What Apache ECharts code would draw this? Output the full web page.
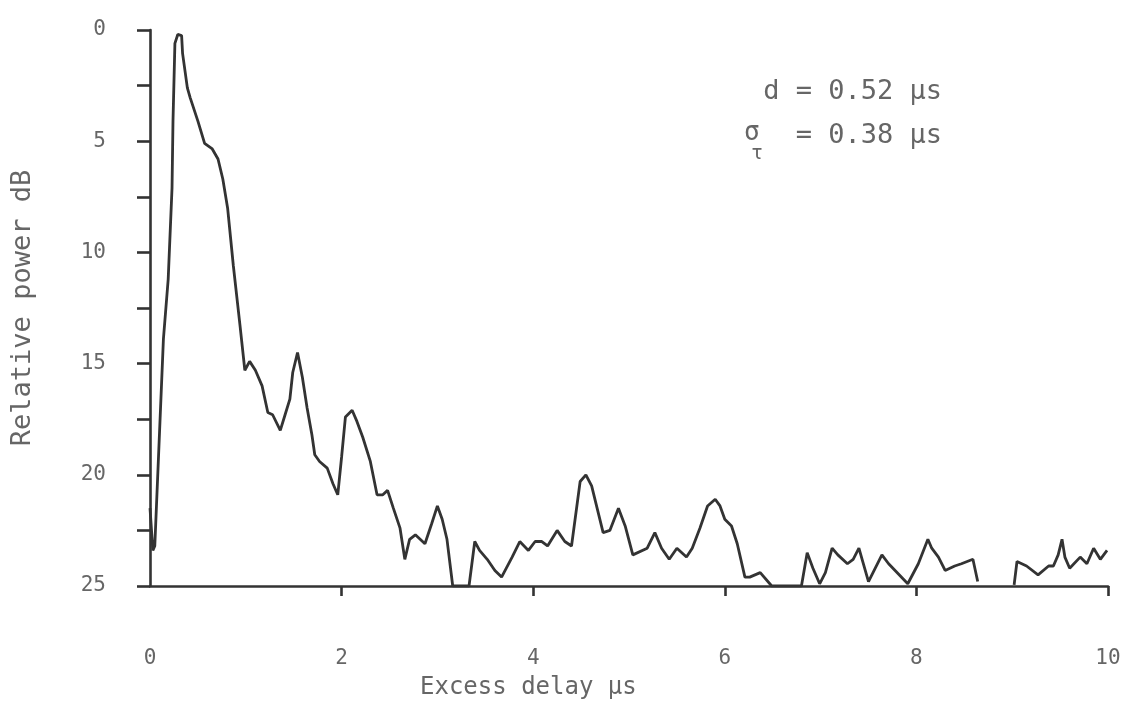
<!DOCTYPE html>
<html>
<head>
<meta charset="utf-8">
<script src="https://cdn.jsdelivr.net/npm/echarts@6/dist/echarts.min.js"></script>
<style>
html,body{margin:0;padding:0;background:#fff;}
#chart{width:1135px;height:717px;}
</style>
</head>
<body>
<div id="chart"></div>
<script>
// Excess delay (µs)
const delay = [
  0.00,0.03,0.05,0.14,0.19,0.23,0.24,0.26,0.29,0.33,0.34,0.39,0.42,0.50,0.57,0.65,0.71,0.76,0.81,0.87,
  0.94,0.99,1.04,1.10,1.17,1.23,1.28,1.36,1.41,1.46,1.49,1.54,1.59,1.64,1.69,1.72,1.77,1.85,1.91,1.96,
  2.00,2.04,2.11,2.16,2.22,2.30,2.37,2.43,2.48,2.54,2.61,2.66,2.71,2.77,2.82,2.87,2.94,3.00,3.05,3.10,
  3.16,3.33,3.39,3.44,3.52,3.60,3.67,3.78,3.86,3.95,4.02,4.09,4.15,4.25,4.33,4.40,4.49,4.55,4.61,4.73,
  4.80,4.89,4.96,5.04,5.19,5.27,5.34,5.42,5.50,5.60,5.66,5.74,5.82,5.90,5.95,6.00,6.07,6.13,6.21,6.26,
  6.37,6.49,6.80,6.86,6.92,6.99,7.05,7.12,7.18,7.28,7.34,7.40,7.44,7.50,7.64,7.71,7.91,8.02,8.12,8.16,
  8.23,8.30,8.40,8.47,8.59,8.64,8.80,9.02,9.05,9.15,9.27,9.38,9.43,9.48,9.52,9.55,9.60,9.71,9.78,9.85,
  9.92,9.99
];
// Relative power (dB below peak); null = gap in trace
const power = [
  21.5,23.4,23.2,13.9,11.2,7.1,4.1,0.6,0.2,0.25,1.05,2.6,3.05,4.1,5.1,5.35,5.8,6.7,8.0,10.6,
  13.3,15.3,14.9,15.3,16.0,17.2,17.3,18.0,17.3,16.6,15.4,14.5,15.6,17.0,18.2,19.1,19.4,19.7,20.4,20.9,
  19.2,17.4,17.1,17.6,18.3,19.4,20.9,20.9,20.7,21.5,22.4,23.8,22.9,22.7,22.9,23.1,22.2,21.4,22.0,22.9,
  25,25,23.0,23.4,23.8,24.3,24.6,23.7,23.0,23.4,23.0,23.0,23.2,22.5,23.0,23.2,20.3,20.0,20.5,22.6,
  22.5,21.5,22.3,23.6,23.3,22.6,23.3,23.8,23.3,23.7,23.3,22.4,21.4,21.1,21.4,22.0,22.3,23.1,24.6,24.6,
  24.4,25,25,23.5,24.2,24.9,24.4,23.3,23.6,24.0,23.8,23.3,23.9,24.8,23.6,24.0,24.9,24.0,22.9,23.3,
  23.7,24.3,24.1,24.0,23.8,24.8,null,24.95,23.9,24.1,24.5,24.1,24.1,23.6,22.9,23.7,24.2,23.7,24.0,23.3,
  23.8,23.4
];
const xTickValues = [0, 2, 4, 6, 8, 10];
const yTickValues = [0, 5, 10, 15, 20, 25];

const seriesData = delay.map((d, i) => [d, power[i]]);
const FONT = 'DejaVu Sans Mono';
const TXT = '#666';
const INK = '#333';

const chart = echarts.init(document.getElementById('chart'), null, {renderer: 'canvas'});
chart.setOption({
  animation: false,
  backgroundColor: '#fff',
  grid: {left: 150, right: 27, top: 30, bottom: 131, outerBoundsMode: 'none', containLabel: false},
  xAxis: {
    type: 'value', min: 0, max: 10, interval: 2,
    axisLine: {show: true, onZero: false, lineStyle: {color: INK, width: 2.6}},
    axisTick: {show: true, length: 10, customValues: [2, 4, 6, 8, 10], lineStyle: {color: INK, width: 2.6}},
    axisLabel: {margin: 62, color: TXT, fontFamily: FONT, fontSize: 21, customValues: xTickValues},
    splitLine: {show: false}
  },
  yAxis: {
    type: 'value', min: 0, max: 25, interval: 2.5, inverse: true,
    name: 'Relative power dB', nameLocation: 'middle', nameGap: 114, nameRotate: 90,
    nameTextStyle: {color: TXT, fontFamily: FONT, fontSize: 27},
    axisLine: {show: true, onZero: false, lineStyle: {color: INK, width: 2.6}},
    axisTick: {show: true, length: 13, lineStyle: {color: INK, width: 2.6}},
    axisLabel: {margin: 44, color: TXT, fontFamily: FONT, fontSize: 21, customValues: yTickValues},
    splitLine: {show: false}
  },
  graphic: [
    {type: 'text', left: 420, top: 676, style: {text: 'Excess delay \u00b5s', fill: TXT, font: '24px "DejaVu Sans Mono"'}},
    {type: 'text', right: 1135 - 942, top: 78, style: {text: 'd = 0.52 \u00b5s', fill: TXT, font: '27px "DejaVu Sans Mono"'}},
    {type: 'text', right: 1135 - 942, top: 122, style: {text: '= 0.38 \u00b5s', fill: TXT, font: '27px "DejaVu Sans Mono"'}},
    {type: 'text', left: 744, top: 120, style: {text: '\u03c3', fill: TXT, font: '26px "DejaVu Sans Mono"'}},
    {type: 'text', left: 751, top: 144, style: {text: '\u03c4', fill: TXT, font: '20px "DejaVu Sans Mono"'}}
  ],
  series: [{
    type: 'line',
    data: seriesData,
    showSymbol: false,
    connectNulls: false,
    lineStyle: {color: INK, width: 2.8},
    clip: true
  }]
});
</script>
</body>
</html>
